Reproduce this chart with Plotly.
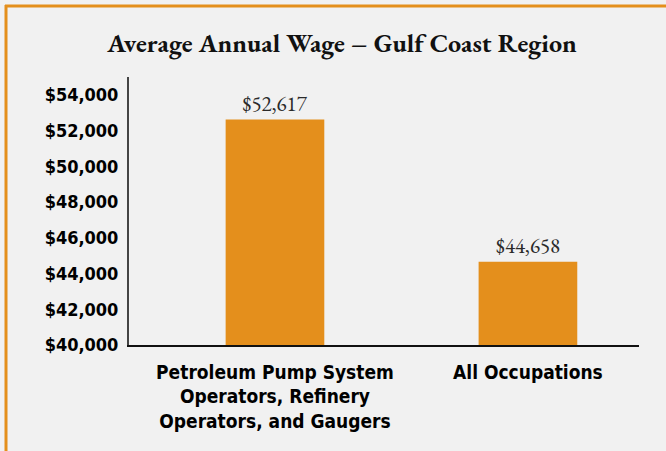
import plotly.graph_objects as go

categories = ["Petroleum Pump System<br>Operators, Refinery<br>Operators, and Gaugers", "All Occupations"]
wages = [52617, 44658]
value_labels = ["$52,617", "$44,658"]
tick_vals = [40000, 42000, 44000, 46000, 48000, 50000, 52000, 54000]
tick_text = ["$40,000", "$42,000", "$44,000", "$46,000", "$48,000", "$50,000", "$52,000", "$54,000"]

ORANGE = "#E48F1C"
BG = "#F1F1F1"
SANS = "Liberation Sans Narrow, DejaVu Sans Condensed, Arial Narrow, sans-serif"
SERIF = "EB Garamond, Liberation Serif, DejaVu Serif, serif"

fig = go.Figure(go.Bar(
    x=[0, 1], y=wages, width=0.39,
    marker=dict(color=ORANGE, line=dict(width=0)),
    text=value_labels, textposition="outside", cliponaxis=False,
    textfont=dict(family=SERIF, size=21, color="#2a2a2a"),
    hoverinfo="skip",
))

L, R, T, B = 129, 27, 77, 106
W, H = 666, 451
pw, ph = W - L - R, H - T - B

fig.update_layout(
    width=W, height=H,
    margin=dict(l=L, r=R, t=T, b=B, autoexpand=False),
    paper_bgcolor=BG, plot_bgcolor=BG,
    showlegend=False,
    title=dict(text="<b>Average Annual Wage – Gulf Coast Region</b>",
               font=dict(family=SERIF, size=26, color="#111"),
               x=342 / W, xanchor="center", xref="container",
               y=1 - 43 / H, yanchor="middle", yref="container"),
    xaxis=dict(range=[-0.577, 1.439], tickvals=[0, 1], ticktext=categories,
               showline=True, linecolor="#111", linewidth=1.5,
               showgrid=False, zeroline=False, ticks="", ticklabelstandoff=9,
               tickfont=dict(family=SANS, size=19, color="#000", weight="bold")),
    yaxis=dict(range=[40000, 55000], tickvals=tick_vals, ticktext=tick_text,
               showline=True, linecolor="#444", linewidth=2,
               showgrid=False, zeroline=False, ticks="", ticklabelstandoff=5,
               tickfont=dict(family=SANS, size=18, color="#000", weight="bold")),
    shapes=[
        dict(type="line", xref="paper", yref="paper",
             x0=(6 - L) / pw, x1=(6 - L) / pw, y0=1 + (T - 5) / ph, y1=-(B + 5) / ph,
             line=dict(color=ORANGE, width=3)),
        dict(type="line", xref="paper", yref="paper",
             x0=(5 - L) / pw, x1=(W + 5 - L) / pw, y0=1 + (T - 6) / ph, y1=1 + (T - 6) / ph,
             line=dict(color=ORANGE, width=3)),
    ],
)

fig.write_html("out.html", config={"displayModeBar": False},
               post_script="document.body.style.margin='0';document.body.style.background='%s';" % BG)
